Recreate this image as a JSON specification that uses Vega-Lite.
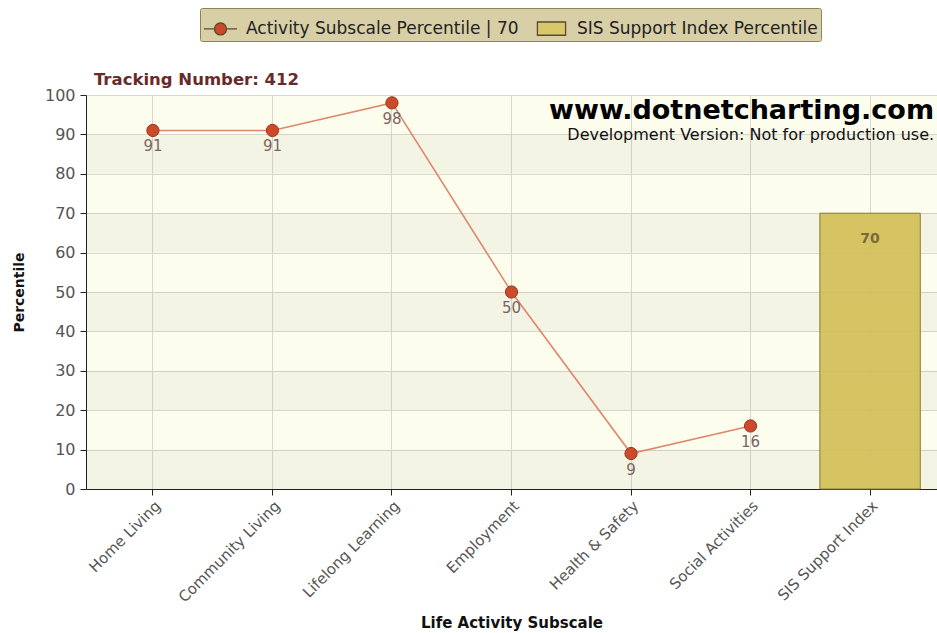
{
  "$schema": "https://vega.github.io/schema/vega-lite/v6.json",
  "width": 851,
  "height": 394,
  "autosize": {"type": "none"},
  "padding": {"left": 86, "top": 95, "right": 0, "bottom": 144},
  "background": "#ffffff",
  "config": {
    "view": {"fill": "#fdfdee", "stroke": null},
    "axis": {
      "labelFont": "DejaVu Sans",
      "titleFont": "DejaVu Sans",
      "domainColor": "#222222",
      "tickColor": "#222222",
      "gridColor": "#d8d8d0",
      "labelColor": "#555555",
      "titleColor": "#111111"
    }
  },
  "datasets": {
    "scores": [
      {"subscale": "Home Living", "percentile": 91, "series": "Activity Subscale Percentile"},
      {"subscale": "Community Living", "percentile": 91, "series": "Activity Subscale Percentile"},
      {"subscale": "Lifelong Learning", "percentile": 98, "series": "Activity Subscale Percentile"},
      {"subscale": "Employment", "percentile": 50, "series": "Activity Subscale Percentile"},
      {"subscale": "Health & Safety", "percentile": 9, "series": "Activity Subscale Percentile"},
      {"subscale": "Social Activities", "percentile": 16, "series": "Activity Subscale Percentile"},
      {"subscale": "SIS Support Index", "percentile": 70, "series": "SIS Support Index Percentile"}
    ],
    "bands": [
      {"lo": 0, "hi": 10}, {"lo": 20, "hi": 30}, {"lo": 40, "hi": 50}, {"lo": 60, "hi": 70}, {"lo": 80, "hi": 90}
    ]
  },
  "encoding": {
    "x": {
      "field": "subscale",
      "type": "nominal",
      "sort": null,
      "scale": {
        "domain": ["Home Living", "Community Living", "Lifelong Learning", "Employment", "Health & Safety", "Social Activities", "SIS Support Index"],
        "paddingInner": 0,
        "paddingOuter": 0.06
      },
      "axis": {
        "title": "Life Activity Subscale",
        "titleFontSize": 15,
        "titleFontWeight": "bold",
        "titlePadding": 11,
        "labelAngle": -45,
        "labelFontSize": 15,
        "tickSize": 6,
        "grid": true,
        "bandPosition": 0.5,
        "labelPadding": 3
      }
    },
    "y": {
      "field": "percentile",
      "type": "quantitative",
      "scale": {"domain": [0, 100], "nice": false},
      "axis": {
        "title": "Percentile",
        "titleFontSize": 14,
        "titleFontWeight": "bold",
        "titlePadding": 18,
        "labelFontSize": 16,
        "values": [0, 10, 20, 30, 40, 50, 60, 70, 80, 90, 100],
        "tickSize": 6,
        "grid": true,
        "labelPadding": 5
      }
    }
  },
  "layer": [
    {
      "data": {"name": "bands"},
      "mark": {"type": "rect", "fill": "#000000", "fillOpacity": 0.035},
      "encoding": {
        "x": null,
        "y": {
          "field": "lo",
          "type": "quantitative",
          "scale": {"domain": [0, 100], "nice": false},
          "axis": {
            "title": "Percentile",
            "titleFontSize": 14,
            "titleFontWeight": "bold",
            "titlePadding": 18,
            "labelFontSize": 16,
            "values": [0, 10, 20, 30, 40, 50, 60, 70, 80, 90, 100],
            "tickSize": 6,
            "grid": true,
            "labelPadding": 5
          }
        },
        "y2": {"field": "hi"}
      }
    },
    {
      "data": {"name": "scores"},
      "transform": [{"filter": "datum.series == 'SIS Support Index Percentile'"}],
      "mark": {"type": "bar", "fill": "#d3bf58", "fillOpacity": 0.92, "stroke": "#8a7a35", "strokeWidth": 1, "width": {"band": 0.84}}
    },
    {
      "data": {"name": "scores"},
      "transform": [{"filter": "datum.series == 'SIS Support Index Percentile'"}],
      "mark": {"type": "text", "baseline": "top", "dy": 19, "font": "DejaVu Sans", "fontSize": 14, "fontWeight": "bold", "color": "#7a6a38"},
      "encoding": {"text": {"field": "percentile", "type": "quantitative"}}
    },
    {
      "data": {"name": "scores"},
      "transform": [{"filter": "datum.series == 'Activity Subscale Percentile'"}],
      "mark": {"type": "line", "color": "#de876b", "strokeWidth": 1.6}
    },
    {
      "data": {"name": "scores"},
      "transform": [{"filter": "datum.series == 'Activity Subscale Percentile'"}],
      "mark": {"type": "point", "shape": "circle", "filled": true, "fill": "#cc4a2a", "stroke": "#953520", "strokeWidth": 1, "size": 150, "opacity": 1}
    },
    {
      "data": {"name": "scores"},
      "transform": [{"filter": "datum.series == 'Activity Subscale Percentile'"}],
      "mark": {"type": "text", "baseline": "top", "dy": 9, "font": "DejaVu Sans", "fontSize": 15, "color": "#7a6560"},
      "encoding": {"text": {"field": "percentile", "type": "quantitative"}}
    },
    {
      "data": {"name": "scores"},
      "transform": [{"filter": "datum.subscale == 'Home Living'"}],
      "mark": {"type": "text", "align": "left", "baseline": "bottom", "dx": -59, "dy": -42, "font": "DejaVu Sans", "fontSize": 16.5, "fontWeight": "bold", "color": "#6b2a2a"},
      "encoding": {"text": {"value": "Tracking Number: 412"}}
    },
    {
      "data": {"name": "scores"},
      "transform": [{"filter": "datum.subscale == 'SIS Support Index'"}],
      "mark": {"type": "text", "align": "right", "baseline": "top", "dx": 64, "dy": -115, "font": "DejaVu Sans", "fontSize": 27, "fontWeight": "bold", "color": "#000000"},
      "encoding": {"text": {"value": "www.dotnetcharting.com"}}
    },
    {
      "data": {"name": "scores"},
      "transform": [{"filter": "datum.subscale == 'SIS Support Index'"}],
      "mark": {"type": "text", "align": "right", "baseline": "top", "dx": 64, "dy": -86, "font": "DejaVu Sans", "fontSize": 16, "color": "#111111"},
      "encoding": {"text": {"value": "Development Version: Not for production use."}}
    },
    {
      "data": {"name": "scores"},
      "transform": [{"filter": "false"}],
      "mark": {"type": "point", "filled": true, "opacity": 1},
      "encoding": {
        "color": {
          "field": "series",
          "type": "nominal",
          "scale": {"domain": ["Activity Subscale Percentile", "SIS Support Index Percentile"], "range": ["#cc4a2a", "#d8c868"]},
          "legend": {
            "title": null,
            "orient": "none",
            "legendX": 114,
            "legendY": -87,
            "direction": "horizontal",
            "columns": 2,
            "fillColor": "#d8cfa6",
            "strokeColor": "#8f8458",
            "padding": 3,
            "cornerRadius": 2,
            "labelFont": "DejaVu Sans",
            "labelFontSize": 17,
            "labelColor": "#222222",
            "labelLimit": 500,
            "labelOffset": 8,
            "symbolSize": 1100,
            "symbolStrokeColor": "#5a4a30",
            "symbolStrokeWidth": 1.3,
            "symbolOpacity": 1,
            "columnPadding": 4,
            "labelExpr": "datum.label == 'Activity Subscale Percentile' ? datum.label + '  |  70' : datum.label"
          }
        },
        "shape": {
          "field": "series",
          "type": "nominal",
          "scale": {
            "domain": ["Activity Subscale Percentile", "SIS Support Index Percentile"],
            "range": ["M -1 0 L -0.36 0 M 0.36 0 L 1 0 M -0.36 0 A 0.36 0.36 0 1 1 0.36 0 A 0.36 0.36 0 1 1 -0.36 0 Z", "M -0.85 -0.4 L 0.85 -0.4 L 0.85 0.4 L -0.85 0.4 Z"]
          },
          "legend": null
        }
      }
    }
  ]
}
